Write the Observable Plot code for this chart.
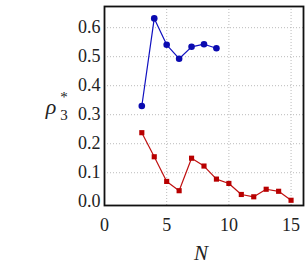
<!DOCTYPE html>
<html><head><meta charset="utf-8">
<script src="https://cdn.jsdelivr.net/npm/d3@7"></script>
<script src="https://cdn.jsdelivr.net/npm/@observablehq/plot@0.6"></script>
<style>body{margin:0;background:#fff}</style>
</head><body><div id="chart"></div>
<script>
const blueN = [3,4,5,6,7,8,9];
const blueRho = [0.330,0.632,0.541,0.493,0.534,0.543,0.529];
const redN = [3,4,5,6,7,8,9,10,11,12,13,14,15];
const redRho = [0.238,0.155,0.070,0.038,0.150,0.123,0.078,0.063,0.025,0.017,0.043,0.036,0.005];
const xTicks = [0,5,10,15];
const yTicks = [0,0.1,0.2,0.3,0.4,0.5,0.6];

const blue = blueN.map((n,i)=>({n, r: blueRho[i]}));
const red = redN.map((n,i)=>({n, r: redRho[i]}));
const SERIF = "'Liberation Serif', serif";

const plot = Plot.plot({
  width: 306, height: 273,
  marginLeft: 104, marginRight: 3, marginTop: 6, marginBottom: 68,
  style: {fontSize: "18px", color: "#222", background: "#fff"},
  x: {domain: [0, 16], ticks: xTicks, tickSize: 0, tickPadding: 13, label: null},
  y: {domain: [-0.013, 0.673], ticks: yTicks, tickSize: 0, tickPadding: 4, label: null, tickFormat: d3.format(".1f")},
  marks: [
    Plot.gridX(xTicks.filter(d=>d>0), {stroke: "#bbb", strokeOpacity: 1, strokeDasharray: "1,2"}),
    Plot.gridY(yTicks.filter(d=>d>0), {stroke: "#bbb", strokeOpacity: 1, strokeDasharray: "1,2"}),
    Plot.line(blue, {x: "n", y: "r", stroke: "#1010c0", strokeWidth: 1.2}),
    Plot.dot(blue, {x: "n", y: "r", fill: "#0a0ab0", r: 3.3}),
    Plot.line(red, {x: "n", y: "r", stroke: "#c01010", strokeWidth: 1.2}),
    Plot.dot(red, {x: "n", y: "r", fill: "#b80000", symbol: "square", r: 2.9}),
    Plot.frame({stroke: "#111", strokeWidth: 1.8})
  ]
});
document.getElementById("chart").append(plot);
const svg = d3.select(plot);
const g = svg.append("g").attr("fill", "#222");
g.append("text").attr("x", 201).attr("y", 260).attr("text-anchor", "middle")
  .attr("font-size", 21).attr("font-style", "italic").text("N");
g.append("text").attr("x", 51).attr("y", 114).attr("font-size", 22).attr("font-style", "italic").text("ρ");
g.append("text").attr("x", 64).attr("y", 102).attr("font-size", 15).text("*");
g.append("text").attr("x", 64).attr("y", 120).attr("font-size", 15).text("3");
plot.style.setProperty("font-family", SERIF, "important");
svg.selectAll("text").each(function(){ this.style.setProperty("font-family", SERIF, "important"); });
</script></body></html>
